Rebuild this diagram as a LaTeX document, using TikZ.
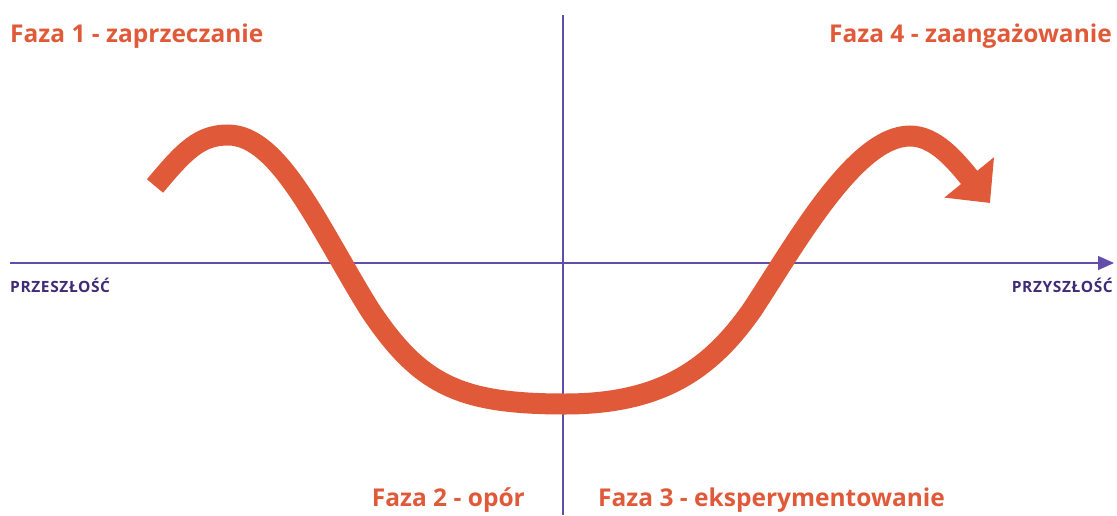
\documentclass[tikz,border=0pt]{standalone}
\usepackage{fontspec}
\setmainfont{Open Sans}
\usepackage{xcolor}
\usetikzlibrary{arrows.meta, positioning}
\definecolor{Coral}{RGB}{224, 90, 58}
\definecolor{AxisPurple}{RGB}{98, 78, 170}
\definecolor{DarkPurple}{RGB}{62, 44, 120}

\begin{document}
\begin{tikzpicture}[x=1pt, y=-1pt,
		phase/.style={text=Coral, font=\bfseries\fontsize{24.5}{28}\selectfont, inner sep=0pt},
		timelabel/.style={text=DarkPurple, font=\bfseries\fontsize{15.5}{18}\selectfont\addfontfeature{LetterSpace=4}, inner sep=0pt}]
		\useasboundingbox (0,0) rectangle (1117,515);
		\coordinate (past) at (10,263);
		\coordinate (future) at (1114,263);
		\coordinate (top) at (563,15);
		\coordinate (bottom) at (563,515);
		\draw[AxisPurple, line width=1.3pt, -{Triangle[length=16pt, width=14pt]}] (past) -- (future);
		\draw[AxisPurple, line width=1.3pt] (top) -- (bottom);
		\node[timelabel, anchor=base west] (pastlabel) at (10,292) {PRZESZŁOŚĆ};
		\node[timelabel, anchor=base east] (futurelabel) at (1113,292) {PRZYSZŁOŚĆ};
		\node[phase, anchor=base west] (phaseone) at (10,42) {Faza 1 - zaprzeczanie};
		\node[phase, anchor=base east] (phasefour) at (1112,42) {Faza 4 - zaangażowanie};
		\node[phase, anchor=base east] (phasetwo) at (525,506) {Faza 2 - opór};
		\node[phase, anchor=base west] (phasethree) at (598,506) {Faza 3 - eksperymentowanie};
		\draw[Coral, line width=21pt, -{Triangle[length=33pt, width=62pt]}]
		(155,186) .. controls (185,150) and (200,135) .. (228,135)
		.. controls (280,135) and (320,230) .. (370,310)
		.. controls (420,385) and (460,404) .. (565,404)
		.. controls (660,404) and (710,370) .. (752,310)
		.. controls (795,245) and (855,136) .. (910,136)
		.. controls (935,136) and (955,160) .. (990,203);
\end{tikzpicture}
\end{document}
